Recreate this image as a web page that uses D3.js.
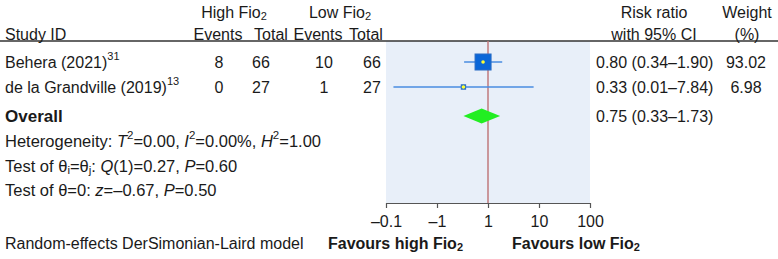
<!DOCTYPE html>
<html><head><meta charset="utf-8">
<script src="https://cdn.jsdelivr.net/npm/d3@7"></script>
<style>body{margin:0;background:#fff}svg{display:block}text{font-family:"Liberation Sans",Arial,sans-serif;fill:#1a1a1a}</style>
</head><body><svg id="c" width="778" height="259"></svg>
<script>
const studies = ["Behera (2021)", "de la Grandville (2019)"];
const refs = ["31", "13"];
const highEvents = [8, 0];
const highTotal = [66, 27];
const lowEvents = [10, 1];
const lowTotal = [66, 27];
const riskRatio = [0.80, 0.33];
const ciLow = [0.34, 0.014];
const ciHigh = [1.90, 7.84];
const weights = [93.02, 6.98];
const overall = [0.75, 0.33, 1.73]; // estimate, low, high
const tickValues = [0.01, 0.1, 1, 10, 100];
const tickLabels = ["\u20130.1", "\u20131", "1", "10", "100"];

const svg = d3.select("#c");
const FS = 16;
const SUP = 11;
const x = d3.scaleLog().domain([0.01, 100]).range([386, 590]);
const rowY = d3.scalePoint().domain(studies).range([62, 87]);
const yOverall = 116, panelTop = 41, axisY = 203;
const boxSize = d3.scaleSqrt().domain([0, 100]).range([0, 16.6]);
const fmt = d3.format(".2f");

svg.append("rect").attr("x", x(0.01)).attr("y", panelTop).attr("width", x(100) - x(0.01)).attr("height", axisY - panelTop).attr("fill", "#e8eff9");
svg.append("line").attr("x1", 0).attr("x2", 778).attr("y1", panelTop).attr("y2", panelTop).attr("stroke", "#333").attr("stroke-width", 1.3);
svg.append("line").attr("x1", x(1)).attr("x2", x(1)).attr("y1", panelTop).attr("y2", axisY).attr("stroke", "#c07a7c").attr("stroke-width", 1.5);

function txt(xp, yp, s, anchor, opts = {}) {
  const t = svg.append("text").attr("x", xp).attr("y", yp).attr("dominant-baseline", "central").attr("text-anchor", anchor || "start").style("font-size", (opts.size || FS) + "px");
  if (opts.bold) t.style("font-weight", "bold");
  if (s != null) t.text(s);
  return t;
}
function fio(t, base) {
  t.append("tspan").text(base);
  t.append("tspan").text("Fio");
  t.append("tspan").attr("dy", 4).style("font-size", SUP + "px").text("2");
}
function sup(t, s, size) {
  t.append("tspan").attr("dy", -6).style("font-size", (size || SUP) + "px").text(s);
}

// headers
txt(5, 34, "Study ID");
fio(txt(234, 12, null, "middle"), "High ");
fio(txt(340, 12, null, "middle"), "Low ");
txt(218, 34, "Events", "middle");
txt(271, 34, "Total", "middle");
txt(318, 34, "Events", "middle");
txt(366, 34, "Total", "middle");
txt(654, 12, "Risk ratio", "middle");
txt(654, 34, "with 95% CI", "middle");
txt(747, 12, "Weight", "middle");
txt(747, 34, "(%)", "middle");

studies.forEach((s, i) => {
  const y = rowY(s);
  const t = txt(5, y, null);
  t.append("tspan").text(s);
  sup(t, refs[i]);
  txt(219, y, highEvents[i], "middle");
  txt(261, y, highTotal[i], "middle");
  txt(324, y, lowEvents[i], "middle");
  txt(372, y, lowTotal[i], "middle");
  txt(596, y, `${fmt(riskRatio[i])} (${fmt(ciLow[i])}\u2013${fmt(ciHigh[i])})`);
  txt(746, y, fmt(weights[i]), "middle");
  svg.append("line").attr("x1", x(ciLow[i])).attr("x2", x(ciHigh[i])).attr("y1", y).attr("y2", y).attr("stroke", "#4a8de0").attr("stroke-width", 1.3);
  const b = boxSize(weights[i]);
  svg.append("rect").attr("x", x(riskRatio[i]) - b / 2).attr("y", y - b / 2).attr("width", b).attr("height", b).attr("fill", "#0a66d8").attr("stroke", "#2b6cc4").attr("stroke-width", 1);
  svg.append("circle").attr("cx", x(riskRatio[i])).attr("cy", y).attr("r", 1.8).attr("fill", "#ffff33");
});

txt(5, yOverall, "Overall", "start", { bold: true, size: 17 });
txt(596, yOverall, `${fmt(overall[0])} (${fmt(overall[1])}\u2013${fmt(overall[2])})`);
svg.append("path").attr("d", `M${x(overall[1])},${yOverall}L${x(overall[0])},${yOverall - 7.5}L${x(overall[2])},${yOverall}L${x(overall[0])},${yOverall + 7.5}Z`).attr("fill", "#22ee22");

const SFS = 16.5, SSUP = 11.5;
{
  const t = txt(5, 141, null, "start", { size: SFS });
  t.append("tspan").text("Heterogeneity: ");
  t.append("tspan").style("font-style", "italic").text("T");
  sup(t, "2", SSUP);
  t.append("tspan").attr("dy", 6).text("=0.00, ");
  t.append("tspan").style("font-style", "italic").text("I");
  sup(t, "2", SSUP);
  t.append("tspan").attr("dy", 6).text("=0.00%, ");
  t.append("tspan").style("font-style", "italic").text("H");
  sup(t, "2", SSUP);
  t.append("tspan").attr("dy", 6).text("=1.00");
}
{
  const t = txt(5, 166, null, "start", { size: SFS });
  t.append("tspan").text("Test of \u03b8");
  t.append("tspan").attr("dy", 4).style("font-size", SSUP + "px").text("i");
  t.append("tspan").attr("dy", -4).text("=\u03b8");
  t.append("tspan").attr("dy", 4).style("font-size", SSUP + "px").text("j");
  t.append("tspan").attr("dy", -4).text(": ");
  t.append("tspan").style("font-style", "italic").text("Q");
  t.append("tspan").text("(1)=0.27, ");
  t.append("tspan").style("font-style", "italic").text("P");
  t.append("tspan").text("=0.60");
}
{
  const t = txt(5, 190, null, "start", { size: SFS });
  t.append("tspan").text("Test of \u03b8=0: ");
  t.append("tspan").style("font-style", "italic").text("z");
  t.append("tspan").text("=\u20130.67, ");
  t.append("tspan").style("font-style", "italic").text("P");
  t.append("tspan").text("=0.50");
}
txt(5, 243, "Random-effects DerSimonian-Laird model");

const axis = d3.axisBottom(x).tickValues(tickValues).tickFormat((d, i) => tickLabels[i]).tickSize(5).tickSizeOuter(0);
const ag = svg.append("g").attr("transform", `translate(0,${axisY})`).call(axis);
ag.select(".domain").attr("stroke", "#555").attr("stroke-width", 1.2);
ag.selectAll(".tick line").attr("stroke", "#555").attr("stroke-width", 1.2);
ag.selectAll(".tick text").attr("y", 18).attr("dy", null).attr("dominant-baseline", "central").style("font-size", FS + "px").style("font-family", "'Liberation Sans',Arial,sans-serif").attr("fill", "#1a1a1a");

fio(txt(463, 243, null, "end", { bold: true }), "Favours high ");
fio(txt(512, 243, null, "start", { bold: true }), "Favours low ");
</script></body></html>
